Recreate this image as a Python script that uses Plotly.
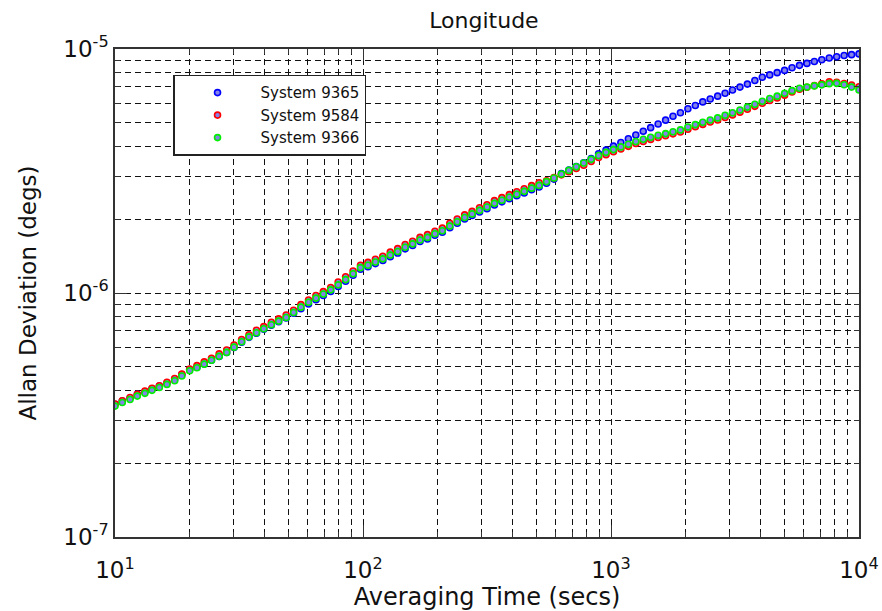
import plotly.graph_objects as go

# Averaging time (s)
tau = [10.0, 10.7, 11.5, 12.3, 13.2, 14.1, 15.1, 16.2, 17.4, 18.6,
       20.0, 21.4, 22.9, 24.5, 26.3, 28.2, 30.2, 32.4, 34.7, 37.2,
       39.8, 42.7, 45.7, 49.0, 52.5, 56.2, 60.3, 64.6, 69.2, 74.1,
       79.4, 85.1, 91.2, 97.7, 104.7, 112.2, 120.2, 128.8, 138.0, 147.9,
       158.5, 169.8, 182.0, 195.0, 208.9, 223.9, 239.9, 257.0, 275.4, 295.1,
       316.2, 338.8, 363.1, 389.0, 416.9, 446.7, 478.6, 512.9, 549.5, 588.8,
       631.0, 676.1, 724.4, 776.2, 831.8, 891.3, 955.0, 1023, 1096, 1175,
       1259, 1349, 1445, 1549, 1660, 1778, 1905, 2042, 2188, 2344,
       2512, 2692, 2884, 3090, 3311, 3548, 3802, 4074, 4365, 4677,
       5012, 5370, 5754, 6166, 6607, 7079, 7586, 8128, 8710, 9333, 10000]

sys_9365 = [3.50e-7, 3.61e-7, 3.71e-7, 3.84e-7, 3.94e-7, 4.05e-7, 4.16e-7, 4.28e-7, 4.43e-7, 4.63e-7,
            4.86e-7, 4.96e-7, 5.12e-7, 5.30e-7, 5.49e-7, 5.70e-7, 5.98e-7, 6.29e-7, 6.58e-7, 6.84e-7,
            7.11e-7, 7.38e-7, 7.63e-7, 7.90e-7, 8.27e-7, 8.62e-7, 9.02e-7, 9.39e-7, 9.76e-7, 1.015e-6,
            1.064e-6, 1.118e-6, 1.182e-6, 1.251e-6, 1.281e-6, 1.320e-6, 1.359e-6, 1.409e-6, 1.458e-6, 1.517e-6,
            1.566e-6, 1.625e-6, 1.665e-6, 1.724e-6, 1.773e-6, 1.852e-6, 1.931e-6, 2.009e-6, 2.078e-6, 2.147e-6,
            2.216e-6, 2.295e-6, 2.364e-6, 2.433e-6, 2.502e-6, 2.571e-6, 2.650e-6, 2.719e-6, 2.817e-6, 2.930e-6,
            3.09e-6, 3.19e-6, 3.30e-6, 3.42e-6, 3.56e-6, 3.72e-6, 3.85e-6, 4.00e-6, 4.14e-6, 4.29e-6,
            4.44e-6, 4.60e-6, 4.76e-6, 4.93e-6, 5.11e-6, 5.30e-6, 5.48e-6, 5.69e-6, 5.87e-6, 6.07e-6,
            6.24e-6, 6.41e-6, 6.59e-6, 6.79e-6, 6.98e-6, 7.18e-6, 7.43e-6, 7.66e-6, 7.83e-6, 8.00e-6,
            8.17e-6, 8.38e-6, 8.57e-6, 8.73e-6, 8.89e-6, 9.04e-6, 9.18e-6, 9.29e-6, 9.40e-6, 9.48e-6, 9.55e-6]

sys_9584 = [3.51e-7, 3.62e-7, 3.73e-7, 3.84e-7, 3.96e-7, 4.07e-7, 4.17e-7, 4.31e-7, 4.46e-7, 4.65e-7,
            4.88e-7, 5.04e-7, 5.22e-7, 5.40e-7, 5.63e-7, 5.84e-7, 6.12e-7, 6.45e-7, 6.74e-7, 7.04e-7,
            7.28e-7, 7.59e-7, 7.83e-7, 8.13e-7, 8.50e-7, 8.96e-7, 9.36e-7, 9.76e-7, 1.013e-6, 1.053e-6,
            1.11e-6, 1.165e-6, 1.23e-6, 1.30e-6, 1.335e-6, 1.375e-6, 1.415e-6, 1.47e-6, 1.52e-6, 1.58e-6,
            1.63e-6, 1.69e-6, 1.735e-6, 1.79e-6, 1.845e-6, 1.93e-6, 2.01e-6, 2.09e-6, 2.16e-6, 2.235e-6,
            2.30e-6, 2.39e-6, 2.46e-6, 2.53e-6, 2.60e-6, 2.675e-6, 2.755e-6, 2.83e-6, 2.88e-6, 2.97e-6,
            3.05e-6, 3.14e-6, 3.24e-6, 3.34e-6, 3.46e-6, 3.59e-6, 3.69e-6, 3.79e-6, 3.89e-6, 3.99e-6,
            4.10e-6, 4.18e-6, 4.26e-6, 4.34e-6, 4.41e-6, 4.49e-6, 4.57e-6, 4.69e-6, 4.80e-6, 4.91e-6,
            5.02e-6, 5.12e-6, 5.24e-6, 5.37e-6, 5.51e-6, 5.66e-6, 5.82e-6, 5.99e-6, 6.15e-6, 6.30e-6,
            6.47e-6, 6.66e-6, 6.84e-6, 6.97e-6, 7.08e-6, 7.20e-6, 7.33e-6, 7.30e-6, 7.22e-6, 7.12e-6, 7.00e-6]

sys_9366 = [3.44e-7, 3.56e-7, 3.66e-7, 3.78e-7, 3.88e-7, 3.99e-7, 4.10e-7, 4.22e-7, 4.37e-7, 4.57e-7,
            4.80e-7, 4.94e-7, 5.11e-7, 5.30e-7, 5.50e-7, 5.71e-7, 6.00e-7, 6.31e-7, 6.61e-7, 6.87e-7,
            7.14e-7, 7.41e-7, 7.67e-7, 7.94e-7, 8.32e-7, 8.75e-7, 9.16e-7, 9.53e-7, 9.91e-7, 1.03e-6,
            1.08e-6, 1.135e-6, 1.20e-6, 1.27e-6, 1.30e-6, 1.34e-6, 1.38e-6, 1.43e-6, 1.48e-6, 1.54e-6,
            1.59e-6, 1.65e-6, 1.69e-6, 1.75e-6, 1.80e-6, 1.88e-6, 1.96e-6, 2.04e-6, 2.11e-6, 2.18e-6,
            2.25e-6, 2.33e-6, 2.40e-6, 2.47e-6, 2.54e-6, 2.61e-6, 2.69e-6, 2.76e-6, 2.86e-6, 2.96e-6,
            3.07e-6, 3.18e-6, 3.29e-6, 3.41e-6, 3.53e-6, 3.66e-6, 3.77e-6, 3.87e-6, 3.97e-6, 4.07e-6,
            4.18e-6, 4.27e-6, 4.35e-6, 4.43e-6, 4.50e-6, 4.58e-6, 4.66e-6, 4.79e-6, 4.90e-6, 5.01e-6,
            5.12e-6, 5.22e-6, 5.35e-6, 5.48e-6, 5.62e-6, 5.78e-6, 5.94e-6, 6.11e-6, 6.27e-6, 6.41e-6,
            6.58e-6, 6.75e-6, 6.90e-6, 6.98e-6, 7.06e-6, 7.13e-6, 7.21e-6, 7.23e-6, 7.14e-6, 6.98e-6, 6.79e-6]

series_names = ["System 9365", "System 9584", "System 9366"]
series_values = [sys_9365, sys_9584, sys_9366]
edge_colors = ["#0000ff", "#ff0000", "#00ee00"]
face_color = "#8484e8"

x_major = [10, 100, 1000, 10000]
x_major_text = ["10<sup>1</sup>", "10<sup>2</sup>", "10<sup>3</sup>", "10<sup>4</sup>"]
y_major = [1e-7, 1e-6, 1e-5]
y_major_text = ["10<sup>-7</sup>", "10<sup>-6</sup>", "10<sup>-5</sup>"]

x_minor = [m * d for d in [10, 100, 1000] for m in range(2, 10)]
y_minor = [m * d for d in [1e-7, 1e-6] for m in range(2, 10)]

FONT = "DejaVu Sans"

fig = go.Figure()
for i, (name, vals, col) in enumerate(zip(series_names, series_values, edge_colors)):
    fig.add_trace(go.Scatter(
        x=tau, y=vals, mode="markers", name=name, legendgroup=f"g{i}",
        marker=dict(symbol="circle", size=6, color=face_color,
                    line=dict(color=col, width=1.6)),
    ))

grid_common = dict(showgrid=True, gridcolor="#111111", gridwidth=1, griddash="6px,4px")

fig.update_xaxes(
    type="log", range=[1, 4], automargin=False,
    tickmode="array", tickvals=x_major, ticktext=x_major_text,
    ticks="inside", ticklen=12, tickwidth=1.3, tickcolor="#333333",
    ticklabelstandoff=12,
    showline=True, linecolor="#333333", linewidth=1.5, mirror="ticks",
    zeroline=False,
    tickfont=dict(family=FONT, size=23, color="#111111"),
    title=dict(text="Averaging Time (secs)", font=dict(family=FONT, size=24, color="#111111"), standoff=8),
    minor=dict(tickmode="array", tickvals=x_minor, ticks="inside", ticklen=5,
               tickcolor="#333333", **grid_common),
    **grid_common,
)
fig.update_yaxes(
    type="log", range=[-7, -5], automargin=False,
    tickmode="array", tickvals=y_major, ticktext=y_major_text,
    ticks="inside", ticklen=12, tickwidth=1.3, tickcolor="#333333",
    showline=True, linecolor="#333333", linewidth=1.5, mirror="ticks",
    zeroline=False,
    tickfont=dict(family=FONT, size=23, color="#111111"),
    title=dict(text="Allan Deviation (degs)", font=dict(family=FONT, size=23, color="#111111"), standoff=20),
    minor=dict(tickmode="array", tickvals=y_minor, ticks="inside", ticklen=5,
               tickcolor="#333333", **grid_common),
    **grid_common,
)

fig.update_layout(
    width=882, height=611,
    margin=dict(l=115, r=23, t=49, b=74, autoexpand=False),
    paper_bgcolor="white", plot_bgcolor="white",
    title=dict(text="Longitude", x=0.5487, xanchor="center", y=0.967, yanchor="middle",
               font=dict(family=FONT, size=22, color="#111111")),
    showlegend=True,
    legend=dict(x=0.078, y=0.947, xanchor="left", yanchor="top",
                bgcolor="white", bordercolor="#222222", borderwidth=1.5,
                font=dict(family=FONT, size=15, color="#111111"),
                itemwidth=76, tracegroupgap=6, traceorder="normal"),
)

fig.write_html("out.html")
